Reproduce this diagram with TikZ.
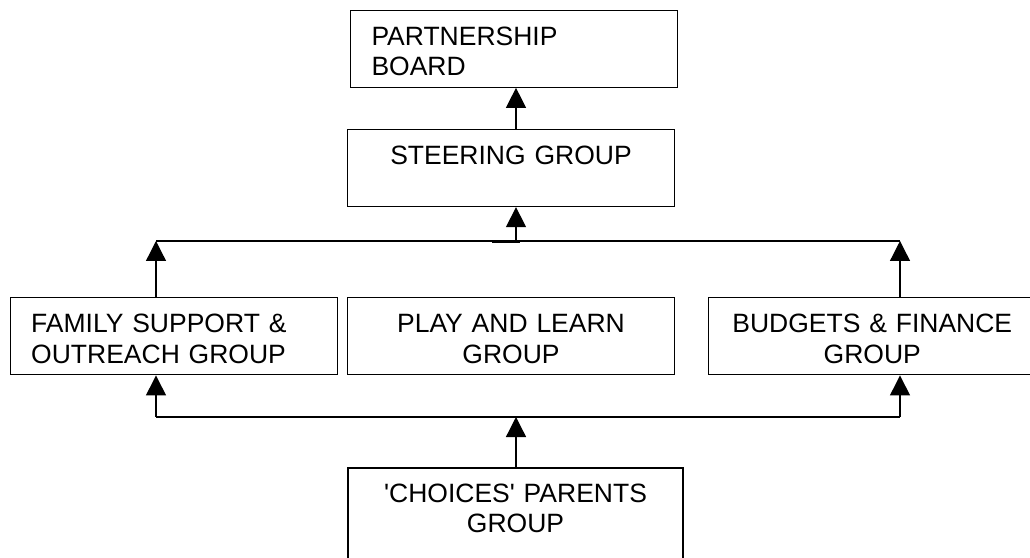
\documentclass[tikz,border=0pt]{standalone}
\usepackage{fontspec}
\setmainfont{Liberation Sans}
\usetikzlibrary{arrows.meta,positioning}

\begin{document}
\begin{tikzpicture}[x=1pt,y=1pt,node distance=41pt,
        font=\fontsize{26.5}{30.5}\selectfont]
        \tikzstyle{unit}
	  =[draw, rectangle, line width=1.3pt, text width=285pt,
	  inner xsep=21pt, inner ysep=4pt, minimum height=77pt, align=center,
	  execute at begin node={\rule{0pt}{24pt}}]
	\tikzstyle{up}
	  =[line width=1.3pt, -{Triangle[width=20pt,length=20pt]}]

	\useasboundingbox (0,0) rectangle (1030,557);
	\clip (0,0) rectangle (1030,557);

	\node[unit] (steering)
	  at (511,389) {STEERING GROUP\\ \mbox{}};
	\node[unit, align=left] (board)
	  [above=41pt of steering, xshift=3pt] {PARTNERSHIP\\ BOARD};
	\node[unit] (play)
	  [below=90pt of steering] {PLAY AND LEARN\\ GROUP};
	\node[unit, align=left] (family)
	  [left=9pt of play] {FAMILY SUPPORT \&\\ OUTREACH GROUP};
	\node[unit] (budgets)
	  [right=33pt of play] {BUDGETS \& FINANCE\\ GROUP};
	\node[unit, text width=293pt, minimum height=140pt] (choices)
	  [below=92pt of play, xshift=4.5pt]
	  {\textquotesingle CHOICES\textquotesingle{} PARENTS\\ GROUP\\[35pt] \mbox{}};

	% bars the groups report through
	\coordinate (upL) at (156,316);
	\coordinate (upR) at (900,316);
	\coordinate (hub) at (516,316);
	\coordinate (lowL) at (156,140);
	\coordinate (lowR) at (900,140);

	\draw[line width=1.3pt] (upL) -- (upR);
	\draw[line width=2.6pt] ([xshift=-24pt,yshift=-0.7pt]hub) -- ([xshift=4pt,yshift=-0.7pt]hub);
	\draw[up] (upL |- family.north) -- (upL);
	\draw[up] (upR |- budgets.north) -- (upR);
	\draw[up] (hub) -- (hub |- steering.south);
	\draw[up] (hub |- steering.north) -- (hub |- board.south);

	\draw[line width=1.3pt] (lowL) -- (lowR);
	\draw[up] (lowL) -- (lowL |- family.south);
	\draw[up] (lowR) -- (lowR |- budgets.south);
	\draw[up] (hub |- choices.north) -- (hub |- lowL);
    \end{tikzpicture}
\end{document}
